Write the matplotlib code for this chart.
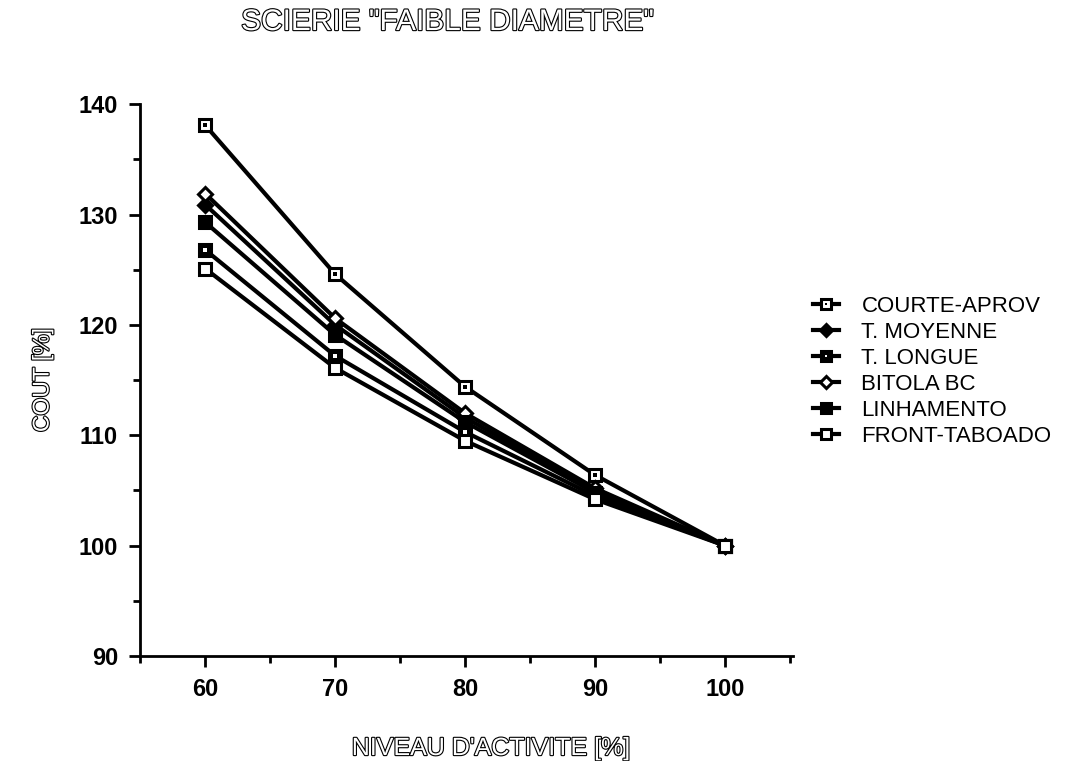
import numpy as np
import matplotlib
matplotlib.use("Agg")
import matplotlib.pyplot as plt
import matplotlib.patheffects as pe
from matplotlib.ticker import MultipleLocator

plt.rcParams['font.family'] = ['Liberation Sans', 'DejaVu Sans']

# donnees
niveau = [60, 70, 80, 90, 100]
courte_aprov = [138.1, 124.6, 114.4, 106.4, 100.0]
t_moyenne = [130.9, 120.0, 111.6, 105.0, 100.0]
t_longue = [126.8, 117.2, 110.3, 104.5, 100.0]
bitola_bc = [131.9, 120.6, 112.0, 105.2, 100.0]
linhamento = [129.3, 119.1, 111.2, 104.8, 100.0]
front_taboado = [125.1, 116.1, 109.5, 104.2, 100.0]

fig = plt.figure(figsize=(10.71, 7.61), dpi=100)
ax = fig.add_axes([0.131, 0.138, 0.609, 0.725])

lw = 3
handles = []

def serie(y, marker, mfc, dot=None, ms=9):
    l, = ax.plot(niveau, y, color='black', lw=lw, marker=marker, ms=ms,
                 mfc=mfc, mec='black', mew=2.2)
    if dot is not None:
        d, = ax.plot(niveau, y, ls='none', marker='s', ms=2.5, mfc=dot,
                     mec=dot, mew=0)
        return (l, d)
    return l

handles.append(serie(courte_aprov, 's', 'white', dot='black'))
handles.append(serie(t_moyenne, 'D', 'black', ms=7.5))
handles.append(serie(t_longue, 's', 'black', dot='white'))
handles.append(serie(bitola_bc, 'D', 'white', ms=7.5))
handles.append(serie(linhamento, 's', 'black'))
handles.append(serie(front_taboado, 's', 'white'))
labels = ['COURTE-APROV', 'T. MOYENNE', 'T. LONGUE', 'BITOLA BC',
          'LINHAMENTO', 'FRONT-TABOADO']

ax.set_xlim(55, 105.2)
ax.set_ylim(90, 140)
ax.xaxis.set_major_locator(MultipleLocator(10))
ax.xaxis.set_minor_locator(MultipleLocator(5))
ax.yaxis.set_major_locator(MultipleLocator(10))
ax.yaxis.set_minor_locator(MultipleLocator(5))
ax.set_xticks(niveau)
for s in ['top', 'right']:
    ax.spines[s].set_visible(False)
for s in ['left', 'bottom']:
    ax.spines[s].set_linewidth(2)
ax.tick_params(which='major', length=8, width=2, direction='out',
               labelsize=17, pad=8)
ax.tick_params(which='minor', length=5, width=2, direction='out')
for t in ax.get_xticklabels() + ax.get_yticklabels():
    t.set_fontweight('bold')

outline = [pe.withStroke(linewidth=1.6, foreground='black')]

fig.text(0.458, 0.017, "NIVEAU D'ACTIVITE [%]", ha='center', va='center',
         fontsize=18, color='white', path_effects=outline)
ax.set_ylabel("COUT [%]", fontsize=16.5, color='white', labelpad=18,
              path_effects=outline)
fig.text(0.418, 0.971, 'SCIERIE "FAIBLE DIAMETRE"', ha='center', va='center',
         fontsize=21.5, color='white', path_effects=outline)

leg = ax.legend(handles, labels, loc='center left', bbox_to_anchor=(1.0, 0.516),
                frameon=False, fontsize=16, handlelength=1.2, numpoints=1,
                labelspacing=0.22, handletextpad=1.0, markerscale=0.85)

fig.savefig('out.png', dpi=100)
